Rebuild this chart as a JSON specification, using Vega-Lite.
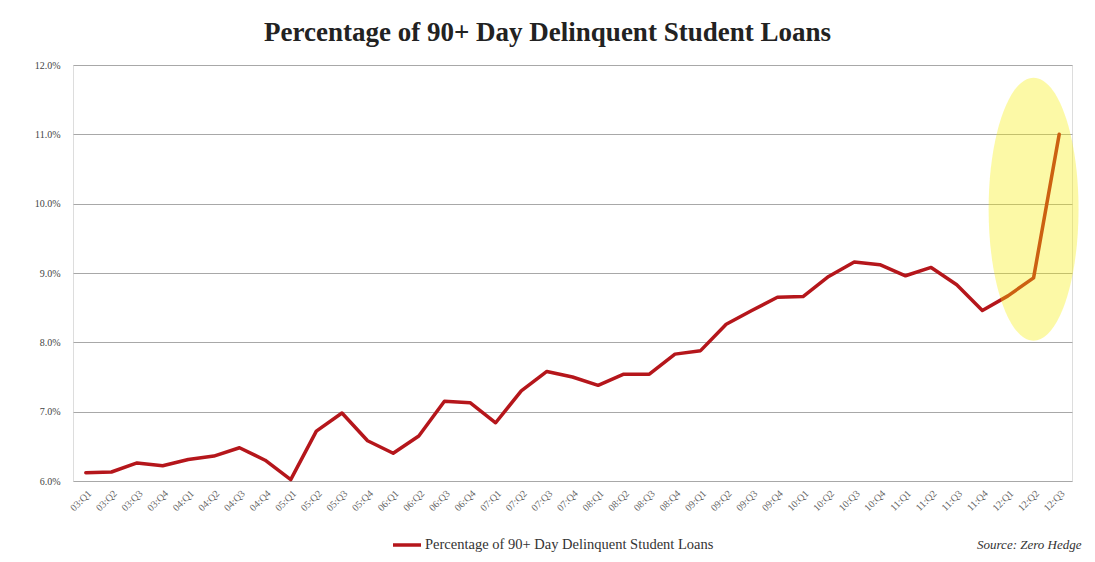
{
  "$schema": "https://vega.github.io/schema/vega-lite/v6.json",
  "autosize": "none",
  "width": 999,
  "height": 416,
  "padding": {"left": 73, "top": 65, "right": 23, "bottom": 81},
  "background": "white",
  "title": {
    "text": "Percentage of 90+ Day Delinquent Student Loans",
    "font": "Liberation Serif",
    "fontSize": 27,
    "fontWeight": "bold",
    "color": "#222222",
    "anchor": "middle",
    "dx": -25,
    "offset": 13
  },
  "datasets": {
    "loans": [
      {"q": "03:Q1", "v": 6.12},
      {"q": "03:Q2", "v": 6.13},
      {"q": "03:Q3", "v": 6.26},
      {"q": "03:Q4", "v": 6.22},
      {"q": "04:Q1", "v": 6.31},
      {"q": "04:Q2", "v": 6.36},
      {"q": "04:Q3", "v": 6.48},
      {"q": "04:Q4", "v": 6.3},
      {"q": "05:Q1", "v": 6.02},
      {"q": "05:Q2", "v": 6.72},
      {"q": "05:Q3", "v": 6.98},
      {"q": "05:Q4", "v": 6.58},
      {"q": "06:Q1", "v": 6.4},
      {"q": "06:Q2", "v": 6.65},
      {"q": "06:Q3", "v": 7.15},
      {"q": "06:Q4", "v": 7.13},
      {"q": "07:Q1", "v": 6.84},
      {"q": "07:Q2", "v": 7.3},
      {"q": "07:Q3", "v": 7.58},
      {"q": "07:Q4", "v": 7.5},
      {"q": "08:Q1", "v": 7.38},
      {"q": "08:Q2", "v": 7.54},
      {"q": "08:Q3", "v": 7.54},
      {"q": "08:Q4", "v": 7.83},
      {"q": "09:Q1", "v": 7.88},
      {"q": "09:Q2", "v": 8.26},
      {"q": "09:Q3", "v": 8.46},
      {"q": "09:Q4", "v": 8.65},
      {"q": "10:Q1", "v": 8.66},
      {"q": "10:Q2", "v": 8.95},
      {"q": "10:Q3", "v": 9.16},
      {"q": "10:Q4", "v": 9.12},
      {"q": "11:Q1", "v": 8.96},
      {"q": "11:Q2", "v": 9.08},
      {"q": "11:Q3", "v": 8.83},
      {"q": "11:Q4", "v": 8.46},
      {"q": "12:Q1", "v": 8.67},
      {"q": "12:Q2", "v": 8.93},
      {"q": "12:Q3", "v": 11.0}
    ],
    "highlight": [
      {"q": "12:Q2", "v": 9.92}
    ]
  },
  "encoding": {
    "x": {
      "field": "q",
      "type": "ordinal",
      "sort": null,
      "scale": {"type": "point", "padding": 0.5},
      "axis": {
        "title": "Source: Zero Hedge",
        "titleFont": "Liberation Serif",
        "titleFontStyle": "italic",
        "titleFontWeight": "normal",
        "titleFontSize": 13,
        "titleColor": "#333333",
        "titleAnchor": "end",
        "titleAlign": "right",
        "titleBaseline": "alphabetic",
        "titleX": 1008,
        "titleY": 67,
        "labelAngle": -45,
        "labelFont": "Liberation Serif",
        "labelFontSize": 10,
        "labelColor": "#666666",
        "labelPadding": 7,
        "ticks": false,
        "tickSize": 0,
        "domain": false,
        "grid": false
      }
    },
    "y": {
      "field": "v",
      "type": "quantitative",
      "scale": {"domain": [6, 12], "zero": false, "nice": false},
      "axis": {
        "title": null,
        "values": [6, 7, 8, 9, 10, 11, 12],
        "labelExpr": "format(datum.value, '.1f') + '%'",
        "labelFont": "Liberation Serif",
        "labelFontSize": 10,
        "labelColor": "#444444",
        "labelPadding": 13,
        "ticks": false,
        "tickSize": 0,
        "domain": false,
        "grid": true,
        "gridColor": "#a8a8a8",
        "gridWidth": 1
      }
    }
  },
  "layer": [
    {
      "data": {"name": "loans"},
      "mark": {"type": "line", "strokeWidth": 3.5, "strokeJoin": "round", "strokeCap": "round"},
      "encoding": {
        "color": {
          "datum": "Percentage of 90+ Day Delinquent Student Loans",
          "type": "nominal",
          "scale": {"range": ["#b5161b"]},
          "legend": {
            "title": null,
            "orient": "none",
            "legendX": 318,
            "legendY": 464,
            "symbolType": "stroke",
            "symbolSize": 784,
            "symbolStrokeWidth": 3.5,
            "labelFont": "Liberation Serif",
            "labelFontSize": 14.5,
            "labelColor": "#333333",
            "labelOffset": 2,
            "labelLimit": 0
          }
        }
      }
    },
    {
      "data": {"name": "highlight"},
      "mark": {
        "type": "point",
        "shape": "M0,-1A0.342,1 0 1,1 0,1A0.342,1 0 1,1 0,-1Z",
        "filled": true,
        "fill": "#f5ee00",
        "fillOpacity": 0.35,
        "strokeWidth": 0,
        "size": 69169
      }
    }
  ]
}
